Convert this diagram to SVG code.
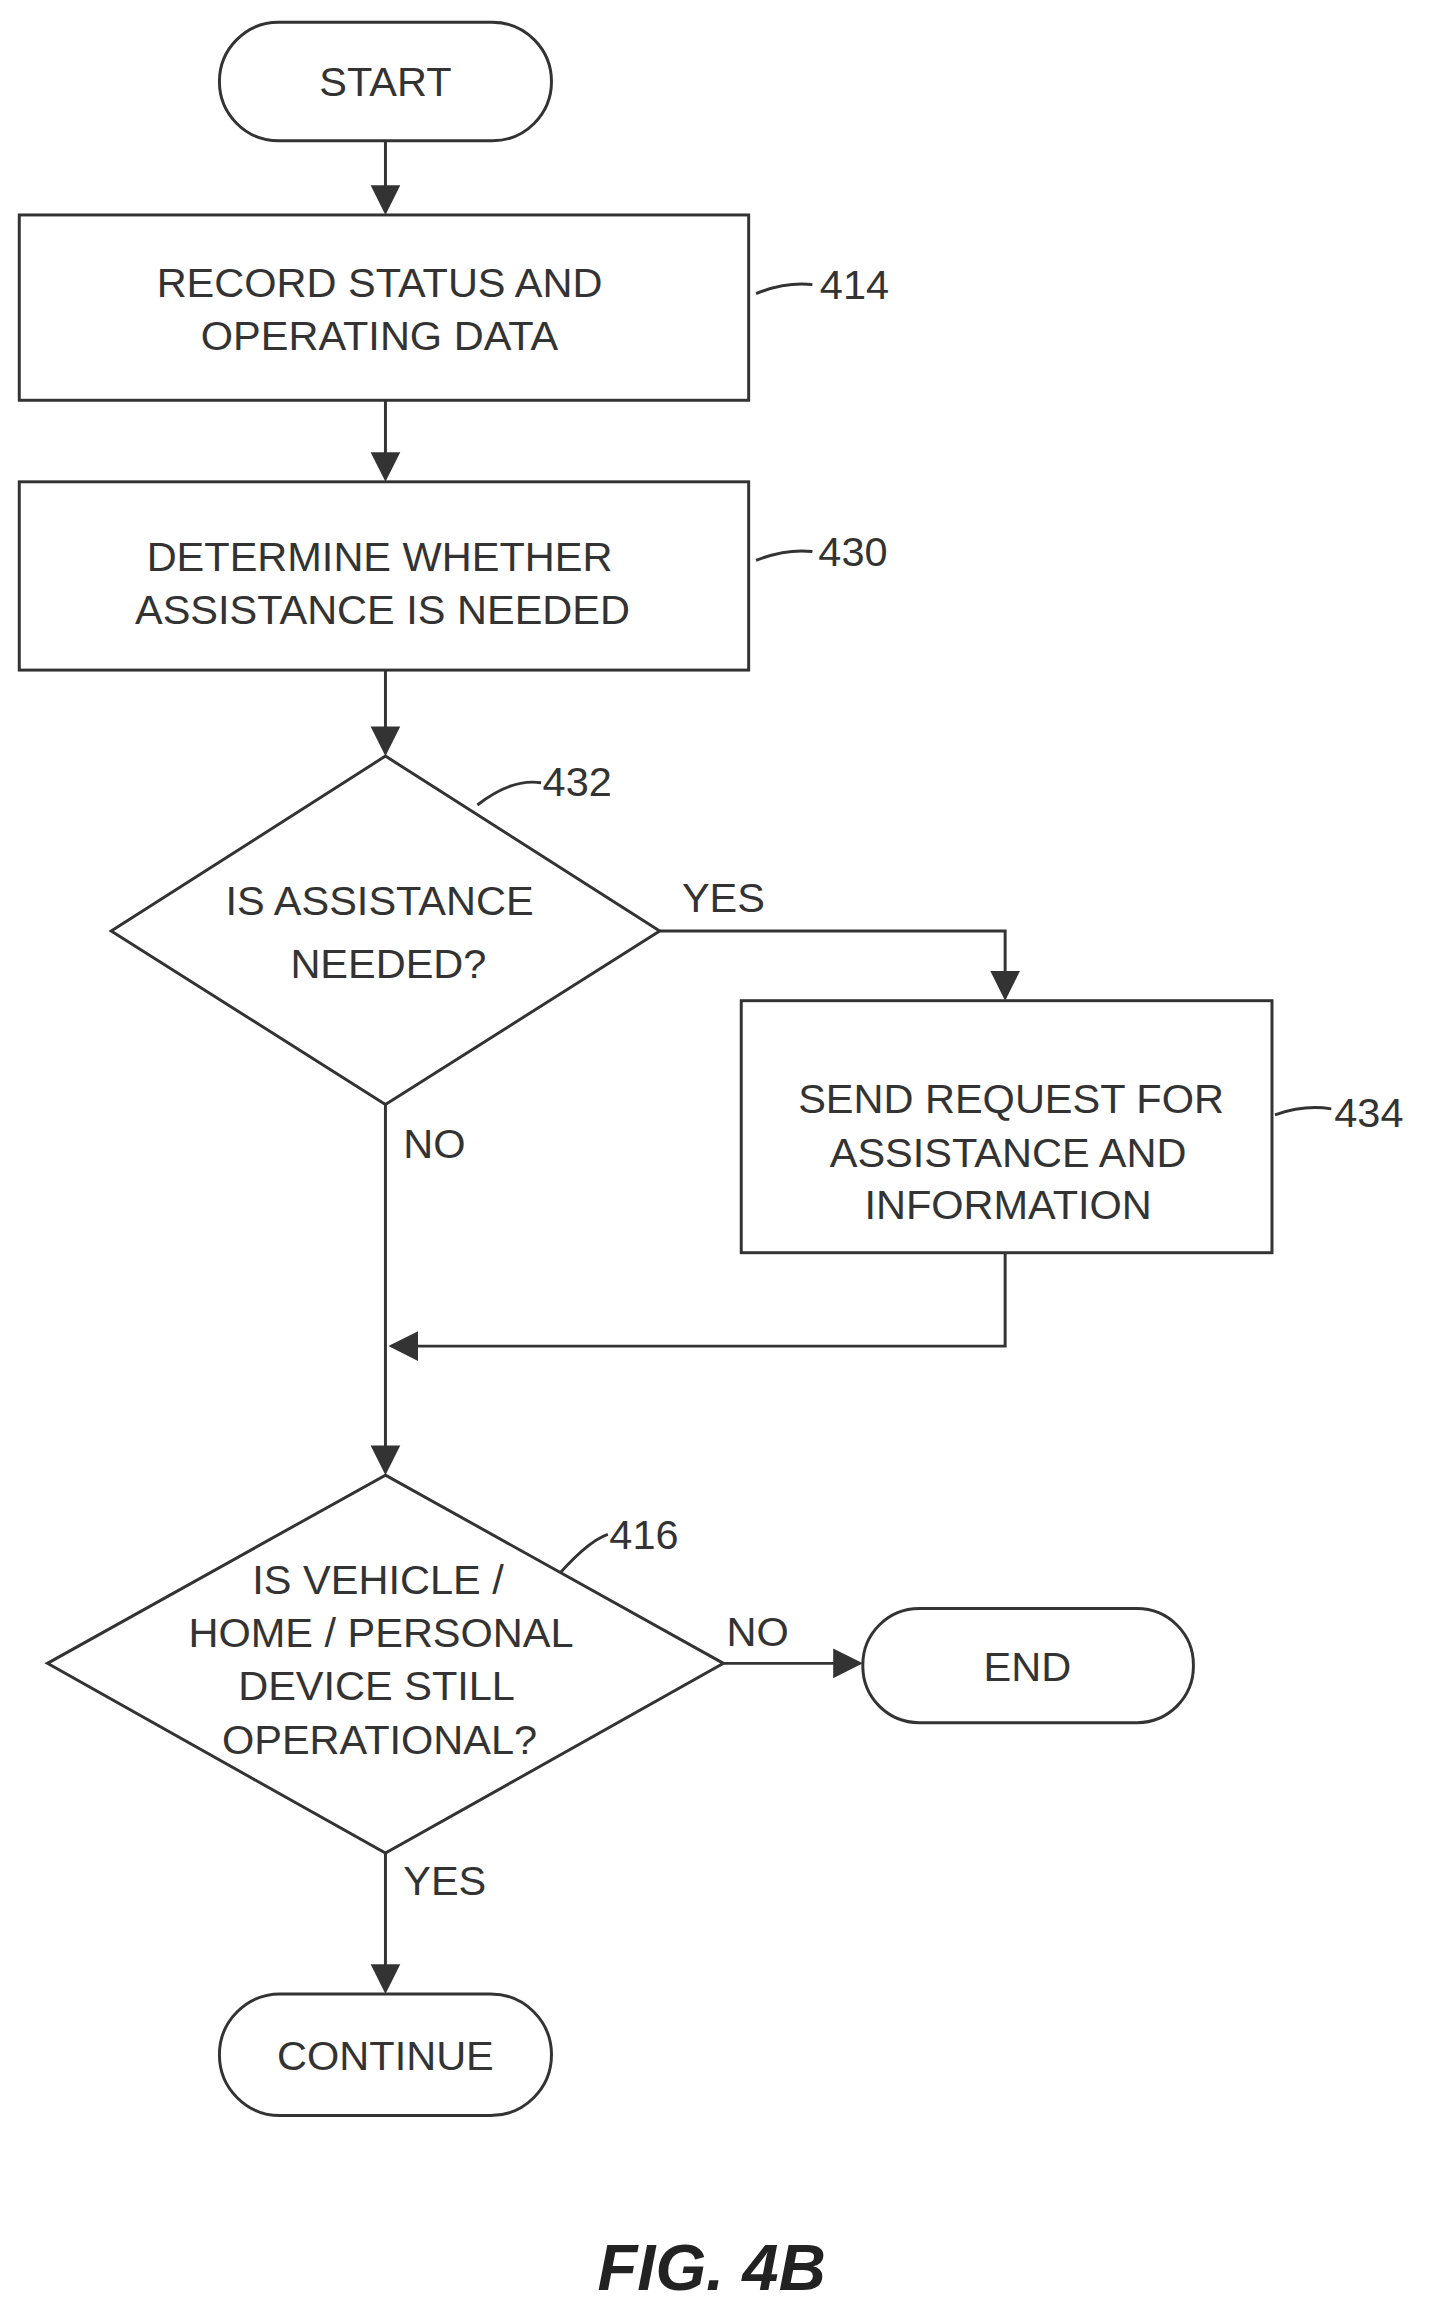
<svg xmlns="http://www.w3.org/2000/svg" width="1438" height="2324" viewBox="0 0 1438 2324">
<defs>
<marker id="ah" viewBox="0 0 10 10" refX="9" refY="5" markerWidth="20" markerHeight="22" markerUnits="userSpaceOnUse" orient="auto"><path d="M0,0 L10,5 L0,10 z" fill="#333"/></marker>
<style>
.s{fill:#fff;stroke:#333;stroke-width:2}
.c{fill:none;stroke:#333;stroke-width:2}
.t{font-family:"Liberation Sans",Arial,sans-serif;font-size:28px;fill:#333;text-anchor:middle}
.l{font-family:"Liberation Sans",Arial,sans-serif;font-size:28px;fill:#333}
</style>
</defs>
<rect width="1438" height="2324" fill="#fff"/>
<g transform="scale(1.4825)">
<g id="connectors">
<path class="c" d="M260,95 V143" marker-end="url(#ah)"/>
<path class="c" d="M260,270 V323" marker-end="url(#ah)"/>
<path class="c" d="M260,452 V508" marker-end="url(#ah)"/>
<path class="c" d="M445,628 H678 V673" marker-end="url(#ah)"/>
<path class="c" d="M260,745 V993" marker-end="url(#ah)"/>
<path class="c" d="M678,845 V908 H264" marker-end="url(#ah)"/>
<path class="c" d="M488,1122 H580" marker-end="url(#ah)"/>
<path class="c" d="M260,1250 V1343" marker-end="url(#ah)"/>
<path class="c" d="M510,198 Q530,190 548,192"/>
<path class="c" d="M510,378 Q530,370 548,372"/>
<path class="c" d="M322,543 Q345,525 365,528"/>
<path class="c" d="M860,752 Q880,745 898,748"/>
<path class="c" d="M370,1070 Q395,1040 410,1035"/>
</g>
<g id="start"><rect class="s" x="148" y="15" width="224" height="80" rx="40"/><text class="t" x="260" y="65">START</text></g>
<g id="n414"><rect class="s" x="13" y="145" width="492" height="125"/><text class="t" x="256" y="200">RECORD STATUS AND</text><text class="t" x="256" y="236">OPERATING DATA</text><text class="l" x="553" y="202">414</text></g>
<g id="n430"><rect class="s" x="13" y="325" width="492" height="127"/><text class="t" x="256" y="385">DETERMINE WHETHER</text><text class="t" x="258" y="421">ASSISTANCE IS NEEDED</text><text class="l" x="552" y="382">430</text></g>
<g id="n432"><path class="s" d="M260,510 L445,628 L260,745 L75,628 z"/><text class="t" x="256" y="617">IS ASSISTANCE</text><text class="t" x="262" y="660">NEEDED?</text><text class="l" x="366" y="537">432</text><text class="l" x="460" y="615">YES</text><text class="l" x="272" y="781">NO</text></g>
<g id="n434"><rect class="s" x="500" y="675" width="358" height="170"/><text class="t" x="682" y="751">SEND REQUEST FOR</text><text class="t" x="680" y="787">ASSISTANCE AND</text><text class="t" x="680" y="822">INFORMATION</text><text class="l" x="900" y="760">434</text></g>
<g id="n416"><path class="s" d="M260,995 L488,1122 L260,1250 L32,1122 z"/><text class="t" x="255" y="1075">IS VEHICLE /</text><text class="t" x="257" y="1111">HOME / PERSONAL</text><text class="t" x="254" y="1147">DEVICE STILL</text><text class="t" x="256" y="1183">OPERATIONAL?</text><text class="l" x="411" y="1045">416</text><text class="l" x="490" y="1110">NO</text><text class="l" x="272" y="1278">YES</text></g>
<g id="end"><rect class="s" x="582" y="1085" width="223" height="77" rx="38"/><text class="t" x="693" y="1134">END</text></g>
<g id="continue"><rect class="s" x="148" y="1345" width="224" height="82" rx="41"/><text class="t" x="260" y="1396">CONTINUE</text></g>
<text x="480" y="1545" style="font-family:'Liberation Sans',Arial,sans-serif;font-size:44px;font-style:italic;font-weight:bold;text-anchor:middle;fill:#222">FIG. 4B</text>
</g>
</svg>
